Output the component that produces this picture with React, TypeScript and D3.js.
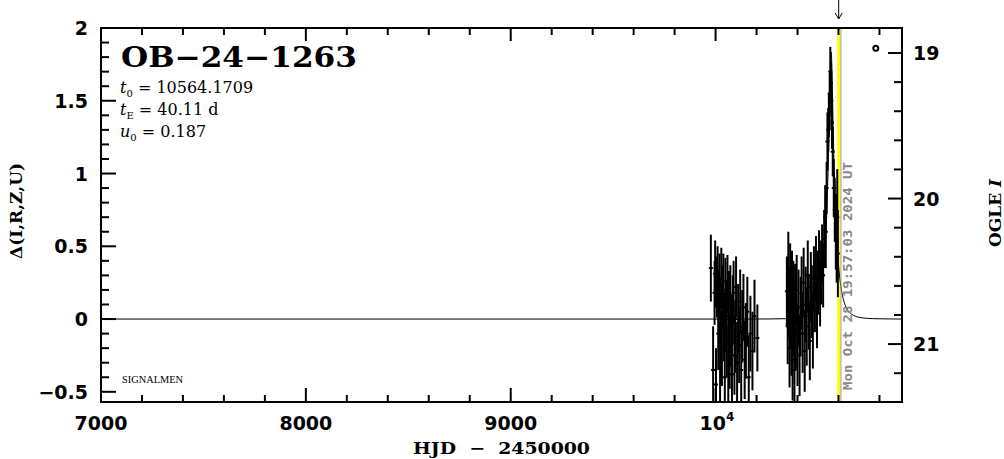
import React from "react";
import * as d3 from "d3";

const W = 1004;
const H = 459;
const PLOT = { left: 101, right: 902, top: 28, bottom: 402 };

// Axes
const xDomain = [7000, 10910];
const yDomain = [-0.57, 2.0];
const magDomain = [18.828, 21.398];
const xMajorTicks = [7000, 8000, 9000, 10000];
const xTickLabels = ["7000", "8000", "9000", "10"];
const xMinorTicks = [7200, 7400, 7600, 7800, 8200, 8400, 8600, 8800, 9200, 9400, 9600, 9800, 10200, 10400, 10600, 10800];
const yMajorTicks = [-0.5, 0, 0.5, 1, 1.5, 2];
const yTickLabels = ["\u22120.5", "0", "0.5", "1", "1.5", "2"];
const yMinorTicks = [-0.4, -0.3, -0.2, -0.1, 0.1, 0.2, 0.3, 0.4, 0.6, 0.7, 0.8, 0.9, 1.1, 1.2, 1.3, 1.4, 1.6, 1.7, 1.8, 1.9];
const magMajorTicks = [19, 20, 21];
const magTickLabels = ["19", "20", "21"];
const magMinorTicks = [19.2, 19.4, 19.6, 19.8, 20.2, 20.4, 20.6, 20.8, 21.2];

// Observations (HJD - 2450000, delta mag, error)
const obsHJD = [
  9977, 9988, 9995, 9998, 10002, 10006, 10010, 10013, 10016, 10019, 10022, 10025, 10028, 10031,
  10035, 10038, 10041, 10045, 10048, 10051, 10055, 10058, 10062, 10065, 10069, 10072, 10076, 10080,
  10084, 10088, 10092, 10096, 10100, 10105, 10110, 10115, 10120, 10125, 10130, 10136, 10142, 10148,
  10155, 10162, 10170, 10180, 10190, 10204,
  10348, 10352, 10355, 10358, 10361, 10364, 10367, 10370, 10373, 10376, 10379, 10382, 10385, 10388,
  10392, 10396, 10400, 10405, 10410, 10415, 10420, 10425, 10430, 10435, 10440, 10445, 10450, 10455,
  10460, 10465, 10470, 10475, 10480, 10485, 10490, 10495, 10500, 10505, 10510, 10515, 10520, 10525,
  10530, 10535, 10538, 10542, 10546, 10550, 10553, 10557, 10560, 10563, 10565, 10568, 10572, 10577,
  10582, 10587, 10591, 10594, 10597,
];
const obsDelta = [
  0.35, -0.35, 0.18, 0.31, -0.45, 0.22, 0.3, -0.1, 0.12, 0.25, -0.3, 0.05, 0.28, -0.2,
  0.15, 0.26, -0.05, -0.4, 0.2, 0.02, -0.15, 0.24, -0.32, 0.1, -0.22, 0.16, -0.08, -0.38,
  0.06, 0.18, -0.25, -0.12, 0.22, -0.3, 0.0, -0.18, 0.12, -0.35, -0.05, 0.08, -0.28, -0.15,
  0.05, -0.4, -0.1, -0.22, 0.02, -0.13,
  0.19, -0.05, 0.35, 0.1, -0.2, 0.28, 0.05, -0.12, 0.22, -0.28, 0.15, 0.0, -0.35, 0.12,
  -0.08, 0.2, -0.18, 0.08, -0.25, 0.02, 0.18, -0.1, 0.25, -0.22, 0.1, -0.05, 0.3, 0.05,
  -0.15, 0.22, 0.12, -0.08, 0.28, 0.15, 0.35, 0.05, 0.25, 0.4, 0.18, 0.32, 0.45, 0.3,
  0.55, 0.7, 0.6, 0.9, 1.22, 1.3, 1.4, 1.55, 1.7, 1.62, 1.5, 1.35, 1.15, 0.9,
  0.75, 0.6, 0.55, 0.7, 0.45,
];
const obsErr = [
  0.23, 0.3, 0.22, 0.23, 0.25, 0.21, 0.2, 0.25, 0.22, 0.2, 0.28, 0.24, 0.21, 0.26,
  0.22, 0.19, 0.24, 0.28, 0.22, 0.25, 0.25, 0.2, 0.27, 0.23, 0.26, 0.21, 0.25, 0.28,
  0.24, 0.22, 0.27, 0.25, 0.21, 0.28, 0.24, 0.26, 0.22, 0.28, 0.25, 0.23, 0.27, 0.26,
  0.24, 0.29, 0.26, 0.27, 0.25, 0.23,
  0.24, 0.26, 0.25, 0.24, 0.27, 0.24, 0.25, 0.27, 0.25, 0.28, 0.25, 0.26, 0.3, 0.26,
  0.27, 0.24, 0.28, 0.26, 0.28, 0.27, 0.25, 0.27, 0.24, 0.28, 0.26, 0.27, 0.24, 0.26,
  0.27, 0.24, 0.25, 0.26, 0.22, 0.24, 0.22, 0.25, 0.22, 0.21, 0.23, 0.22, 0.2, 0.22,
  0.2, 0.22, 0.25, 0.18, 0.2, 0.15, 0.15, 0.14, 0.17, 0.15, 0.2, 0.18, 0.17, 0.2,
  0.22, 0.26, 0.3, 0.33, 0.3,
];

// Model curve
const modelHJD = [
  7000, 10163, 10363.6, 10403.7, 10443.8, 10463.9, 10483.9, 10504.0, 10514.0, 10524.1, 10530.1,
  10536.1, 10540.1, 10544.1, 10548.1, 10552.1, 10556.1, 10558.2, 10560.2, 10562.2, 10564.2,
  10566.2, 10568.2, 10570.2, 10572.2, 10576.2, 10580.2, 10584.2, 10588.2, 10592.2, 10598.3,
  10604.3, 10614.3, 10624.3, 10644.4, 10664.4, 10684.5, 10724.6, 10764.7, 10910,
];
const modelDelta = [
  0, 0, 0.003, 0.007, 0.018, 0.033, 0.063, 0.133, 0.201, 0.309, 0.405,
  0.536, 0.649, 0.789, 0.963, 1.178, 1.436, 1.574, 1.702, 1.798, 1.835,
  1.798, 1.702, 1.574, 1.436, 1.178, 0.963, 0.789, 0.649, 0.536, 0.405,
  0.309, 0.201, 0.133, 0.063, 0.033, 0.018, 0.007, 0.003, 0,
];

const lastObsHJD = 10601;
const nowHJD = 10612;
const markerPoint = [10782, 1.86];

const titleText = "OB\u221224\u22121263";
const paramValues = ["10564.1709", "40.11 d", "0.187"];
const nowLabel = "Mon Oct 28 19:57:03 2024 UT";

export default function App() {
  const x = d3.scaleLinear().domain(xDomain).range([PLOT.left, PLOT.right]);
  const y = d3.scaleLinear().domain(yDomain).range([PLOT.bottom, PLOT.top]);
  const ym = d3.scaleLinear().domain(magDomain).range([PLOT.top, PLOT.bottom]);

  const model = d3
    .line<number>()
    .x((_, i) => x(modelHJD[i]))
    .y((d) => y(d))
    .curve(d3.curveMonotoneX)(modelDelta) as string;

  const tickFont = { fontFamily: "DejaVu Sans", fontWeight: 700, fontSize: 19 } as const;
  const serifBold = { fontFamily: "DejaVu Serif", fontWeight: 700 } as const;

  const yl = x(lastObsHJD);
  const xn = x(nowHJD);

  return (
    <svg width={W} height={H} style={{ position: "absolute", left: 0, top: 0, background: "#fff" }}>
      <defs>
        <clipPath id="plotclip">
          <rect x={PLOT.left} y={PLOT.top} width={PLOT.right - PLOT.left} height={PLOT.bottom - PLOT.top} />
        </clipPath>
      </defs>
      <rect x={0} y={0} width={W} height={H} fill="#fff" />

      {/* yellow last-observation line */}
      <line x1={yl} x2={yl} y1={PLOT.top} y2={PLOT.bottom} stroke="#ffff00" strokeWidth={3} />

      <g clipPath="url(#plotclip)">
        <path d={model} fill="none" stroke="#000" strokeWidth={1} />
        {obsHJD.map((t, i) => {
          const cx = x(t);
          return (
            <g key={i}>
              <line x1={cx} x2={cx} y1={y(obsDelta[i] + obsErr[i])} y2={y(obsDelta[i] - obsErr[i])} stroke="#000" strokeWidth={2} />
              <rect x={cx - 2} y={y(obsDelta[i]) - 1} width={4} height={2} fill="#000" />
            </g>
          );
        })}
      </g>

      {/* now line */}
      <line x1={xn} x2={xn} y1={PLOT.top} y2={PLOT.bottom} stroke="#999" strokeWidth={1} />
      <text
        transform={`translate(${xn + 11},390) rotate(-90)`}
        fontFamily="DejaVu Sans Mono"
        fontWeight={700}
        fontSize={13}
        fill="#888"
        textLength={228}
        lengthAdjust="spacingAndGlyphs"
      >
        {nowLabel}
      </text>

      {/* arrow */}
      <line x1={yl} x2={yl} y1={0} y2={19} stroke="#000" strokeWidth={1} />
      <polyline points={`${yl - 3.5},13 ${yl},19 ${yl + 3.5},13`} fill="none" stroke="#000" strokeWidth={1} />

      {/* marker */}
      <circle cx={x(markerPoint[0])} cy={y(markerPoint[1])} r={2.5} fill="none" stroke="#000" strokeWidth={2} />

      {/* frame */}
      <rect x={PLOT.left} y={PLOT.top} width={PLOT.right - PLOT.left} height={PLOT.bottom - PLOT.top} fill="none" stroke="#000" strokeWidth={2} />

      {/* bottom & top ticks */}
      {xMajorTicks.map((t) => (
        <g key={"xM" + t}>
          <line x1={x(t)} x2={x(t)} y1={PLOT.bottom} y2={PLOT.bottom - 14} stroke="#000" strokeWidth={2} />
          <line x1={x(t)} x2={x(t)} y1={PLOT.top} y2={PLOT.top + 13} stroke="#000" strokeWidth={2} />
        </g>
      ))}
      {xMinorTicks.map((t) => (
        <g key={"xm" + t}>
          <line x1={x(t)} x2={x(t)} y1={PLOT.bottom} y2={PLOT.bottom - 7} stroke="#000" strokeWidth={2} />
          <line x1={x(t)} x2={x(t)} y1={PLOT.top} y2={PLOT.top + 7} stroke="#000" strokeWidth={2} />
        </g>
      ))}
      {xMajorTicks.map((t, i) =>
        i === 3 ? (
          <text key={"xl" + t} x={x(t) - 16} y={430} {...tickFont}>
            {xTickLabels[i]}
            <tspan fontSize={12} dy={-9}>4</tspan>
          </text>
        ) : (
          <text key={"xl" + t} x={x(t)} y={430} textAnchor="middle" {...tickFont}>
            {xTickLabels[i]}
          </text>
        )
      )}

      {/* left ticks */}
      {yMajorTicks.map((v, i) => (
        <g key={"yM" + v}>
          <line x1={PLOT.left} x2={PLOT.left + 15} y1={y(v)} y2={y(v)} stroke="#000" strokeWidth={2} />
          <text x={88} y={y(v) + 7} textAnchor="end" {...tickFont}>
            {yTickLabels[i]}
          </text>
        </g>
      ))}
      {yMinorTicks.map((v) => (
        <line key={"ym" + v} x1={PLOT.left} x2={PLOT.left + 8} y1={y(v)} y2={y(v)} stroke="#000" strokeWidth={2} />
      ))}

      {/* right ticks */}
      {magMajorTicks.map((m, i) => (
        <g key={"mM" + m}>
          <line x1={PLOT.right} x2={PLOT.right - 14} y1={ym(m)} y2={ym(m)} stroke="#000" strokeWidth={2} />
          <text x={913} y={ym(m) + 7} {...tickFont}>
            {magTickLabels[i]}
          </text>
        </g>
      ))}
      {magMinorTicks.map((m) => (
        <line key={"mm" + m} x1={PLOT.right} x2={PLOT.right - 8} y1={ym(m)} y2={ym(m)} stroke="#000" strokeWidth={2} />
      ))}

      {/* axis titles */}
      <text x={413} y={454} {...serifBold} fontSize={17} textLength={177} lengthAdjust="spacingAndGlyphs" xmlSpace="preserve">
        {"HJD  \u2212  2450000"}
      </text>
      <text transform="translate(22,211) rotate(-90)" textAnchor="middle" {...serifBold} fontSize={17}>
        {"\u0394(I,R,Z,U)"}
      </text>
      <text transform="translate(1001,213) rotate(-90)" textAnchor="middle" {...serifBold} fontSize={17}>
        {"OGLE "}
        <tspan fontStyle="italic">I</tspan>
      </text>

      {/* title & params */}
      <text x={121} y={67} {...serifBold} fontSize={28} textLength={236} lengthAdjust="spacingAndGlyphs">
        {titleText}
      </text>
      <g fontFamily="DejaVu Serif" fontSize={16}>
        <text x={120} y={93}>
          <tspan fontStyle="italic">t</tspan>
          <tspan fontSize={10} dy={4}>0</tspan>
          <tspan dy={-4}>{" = " + paramValues[0]}</tspan>
        </text>
        <text x={120} y={115}>
          <tspan fontStyle="italic">t</tspan>
          <tspan fontSize={10} dy={4}>E</tspan>
          <tspan dy={-4}>{" = " + paramValues[1]}</tspan>
        </text>
        <text x={120} y={137}>
          <tspan fontStyle="italic">u</tspan>
          <tspan fontSize={10} dy={4}>0</tspan>
          <tspan dy={-4}>{" = " + paramValues[2]}</tspan>
        </text>
      </g>
      <text x={122} y={383} fontFamily="Liberation Serif" fontSize={10} textLength={61} lengthAdjust="spacingAndGlyphs">
        SIGNALMEN
      </text>
    </svg>
  );
}
